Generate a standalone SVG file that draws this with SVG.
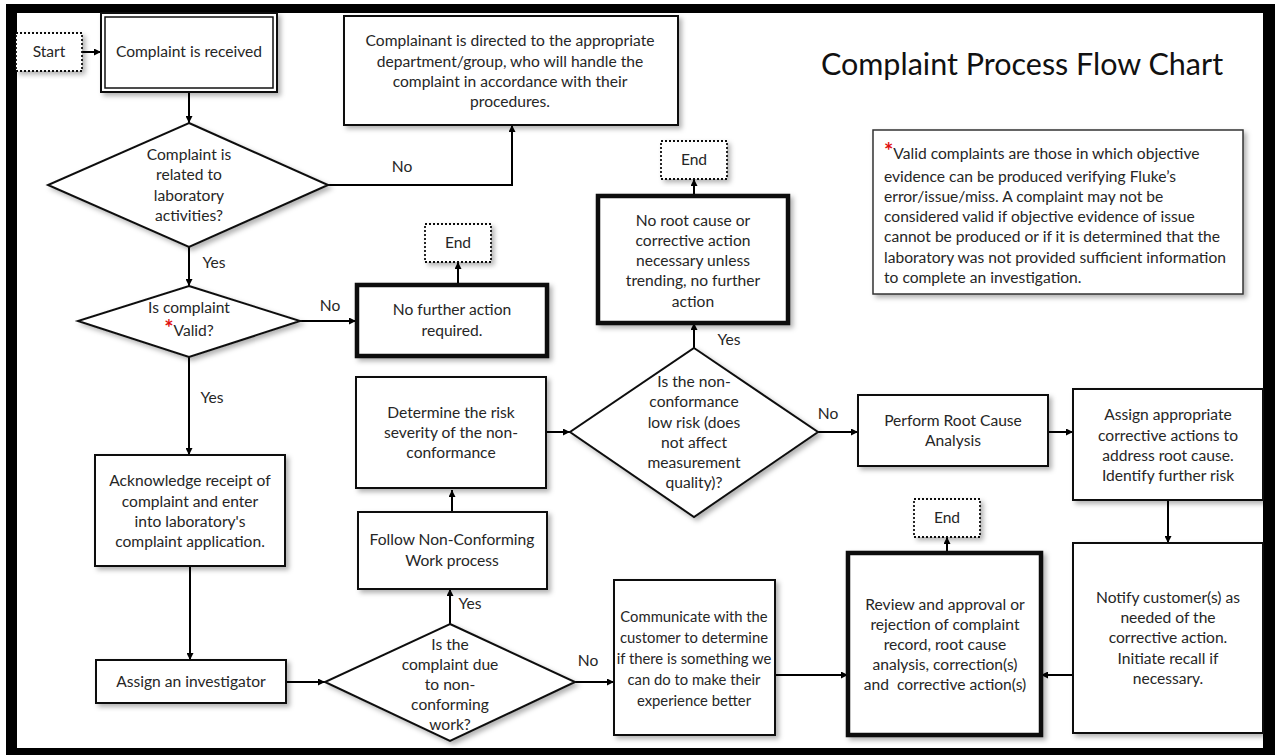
<svg xmlns="http://www.w3.org/2000/svg" width="1275" height="755" viewBox="0 0 1275 755">
<defs>
<filter id="sh" x="-10%" y="-10%" width="130%" height="130%"><feDropShadow dx="3" dy="3" stdDeviation="2.5" flood-color="#000" flood-opacity="0.3"/></filter>
<marker id="ah" viewBox="0 0 10 10" refX="10" refY="5" markerWidth="7" markerHeight="7" markerUnits="userSpaceOnUse" orient="auto"><path d="M0,0 L10,5 L0,10 z" fill="#000"/></marker>
</defs>
<style>
text{font-family:"Lato","Liberation Sans",sans-serif;font-size:15.6px;fill:#262626;text-anchor:middle}
.box{fill:#fff;stroke:#111;stroke-width:2}
.thick{fill:#fff;stroke:#111;stroke-width:4.5}
.dot{fill:#fff;stroke:#111;stroke-width:1.8;stroke-dasharray:2 2}
.con{fill:none;stroke:#000;stroke-width:2;marker-end:url(#ah)}
.note{text-anchor:start}
.red{fill:#e01010;font-size:22px;font-weight:bold}
.sm{font-size:14.8px}
</style>
<rect width="1275" height="755" fill="#fff"/>
<path d="M6,4 H1275 V755 H6 Z M17,13 V748 H1263 V13 Z" fill="#000" fill-rule="evenodd"/>

<g id="connectors">
<path class="con" d="M82,52 H101"/>
<path class="con" d="M189,92 V123"/>
<path class="con" d="M328,185 H512 V125"/>
<path class="con" d="M189,247 V286"/>
<path class="con" d="M300,321 H356"/>
<path class="con" d="M458,285 V262"/>
<path class="con" d="M189,357 V455"/>
<path class="con" d="M190,566 V660"/>
<path class="con" d="M286,682 H325"/>
<path class="con" d="M450,624 V589"/>
<path class="con" d="M452,512 V490"/>
<path class="con" d="M546,432 H570"/>
<path class="con" d="M694,348 V323"/>
<path class="con" d="M694,196 V179"/>
<path class="con" d="M818,432 H858"/>
<path class="con" d="M1048,432 H1073"/>
<path class="con" d="M1168,500 V543"/>
<path class="con" d="M1073,675 H1041"/>
<path class="con" d="M575,682 H614"/>
<path class="con" d="M775,675 H848"/>
<path class="con" d="M947,553 V537"/>
<text x="402" y="172">No</text>
<text x="214" y="268">Yes</text>
<text x="330" y="311">No</text>
<text x="212" y="403">Yes</text>
<text x="729" y="345">Yes</text>
<text x="828" y="419">No</text>
<text x="470" y="609">Yes</text>
<text x="588" y="666">No</text>
</g>

<text x="1022" y="75" style="font-size:30.5px;fill:#111">Complaint Process Flow Chart</text>

<g id="start"><rect class="dot" x="16" y="33" width="66" height="38" filter="url(#sh)"/><text x="49" y="57">Start</text></g>

<g id="received"><rect class="box" x="101" y="13" width="176" height="79" filter="url(#sh)"/><rect x="105" y="17" width="168" height="71" fill="none" stroke="#111" stroke-width="1.5"/><text x="189" y="57">Complaint is received</text></g>

<g id="d-related"><polygon class="box" points="189,123 328,185 189,247 48,185" filter="url(#sh)"/>
<text x="189" y="160">Complaint is</text><text x="189" y="180">related to</text><text x="189" y="201">laboratory</text><text x="189" y="221">activities?</text></g>

<g id="directed"><rect class="box" x="344" y="16" width="334" height="109" filter="url(#sh)"/>
<text x="510" y="46">Complainant is directed to the appropriate</text><text x="510" y="67">department/group, who will handle the</text><text x="510" y="87">complaint in accordance with their</text><text x="510" y="107">procedures.</text></g>

<g id="d-valid"><polygon class="box" points="189,286 300,321 189,357 78,321" filter="url(#sh)"/>
<text x="189" y="313">Is complaint</text><text x="189" y="336"><tspan class="red">*</tspan>Valid?</text></g>

<g id="nofurther"><rect class="thick" x="357" y="285" width="190" height="71" filter="url(#sh)"/><text x="452" y="315">No further action</text><text x="452" y="336">required.</text></g>
<g id="end1"><rect class="dot" x="425" y="224" width="66" height="38" filter="url(#sh)"/><text x="458" y="248">End</text></g>

<g id="noroot"><rect class="thick" x="598" y="196" width="190" height="127" filter="url(#sh)"/>
<text x="693" y="226">No root cause or</text><text x="693" y="246">corrective action</text><text x="693" y="266">necessary unless</text><text x="693" y="286">trending, no further</text><text x="693" y="307">action</text></g>
<g id="end2"><rect class="dot" x="661" y="141" width="66" height="38" filter="url(#sh)"/><text x="694" y="165">End</text></g>

<g id="note"><rect x="873" y="130" width="370" height="164" fill="#fff" stroke="#333" stroke-width="1.5" filter="url(#sh)"/>
<text class="note" x="884" y="159"><tspan class="red">*</tspan>Valid complaints are those in which objective</text>
<text class="note" x="884" y="182">evidence can be produced verifying Fluke’s</text>
<text class="note" x="884" y="202">error/issue/miss. A complaint may not be</text>
<text class="note" x="884" y="222">considered valid if objective evidence of issue</text>
<text class="note" x="884" y="242">cannot be produced or if it is determined that the</text>
<text class="note" x="884" y="263">laboratory was not provided sufficient information</text>
<text class="note" x="884" y="283">to complete an investigation.</text></g>

<g id="determine"><rect class="box" x="356" y="377" width="190" height="111" filter="url(#sh)"/>
<text x="451" y="418">Determine the risk</text><text x="451" y="438">severity of the non-</text><text x="451" y="458">conformance</text></g>

<g id="d-lowrisk"><polygon class="box" points="694,348 818,432 694,517 570,432" filter="url(#sh)"/>
<text x="694" y="387">Is the non-</text><text x="694" y="407">conformance</text><text x="694" y="428">low risk (does</text><text x="694" y="448">not affect</text><text x="694" y="468">measurement</text><text x="694" y="488">quality)?</text></g>

<g id="rootcause"><rect class="box" x="858" y="395" width="190" height="71" filter="url(#sh)"/><text x="953" y="426">Perform Root Cause</text><text x="953" y="446">Analysis</text></g>

<g id="assignca"><rect class="box" x="1073" y="389" width="190" height="111" filter="url(#sh)"/>
<text x="1168" y="420">Assign appropriate</text><text x="1168" y="441">corrective actions to</text><text x="1168" y="461">address root cause.</text><text x="1168" y="481">Identify further risk</text></g>

<g id="acknowledge"><rect class="box" x="95" y="455" width="190" height="111" filter="url(#sh)"/>
<text x="190" y="486">Acknowledge receipt of</text><text x="190" y="507">complaint and enter</text><text x="190" y="527">into laboratory's</text><text x="190" y="547">complaint application.</text></g>

<g id="follow"><rect class="box" x="358" y="512" width="189" height="77" filter="url(#sh)"/><text x="452" y="545">Follow Non-Conforming</text><text x="452" y="566">Work process</text></g>

<g id="investigator"><rect class="box" x="96" y="660" width="190" height="43" filter="url(#sh)"/><text x="191" y="687">Assign an investigator</text></g>

<g id="d-nonconf"><polygon class="box" points="450,624 575,682 450,741 325,682" filter="url(#sh)"/>
<text x="450" y="650">Is the</text><text x="450" y="670">complaint due</text><text x="450" y="690">to non-</text><text x="450" y="710">conforming</text><text x="450" y="730">work?</text></g>

<g id="communicate"><rect class="box" x="614" y="580" width="161" height="155" filter="url(#sh)"/>
<text class="sm" x="694" y="622">Communicate with the</text><text class="sm" x="694" y="643">customer to determine</text><text class="sm" x="694" y="664">if there is something we</text><text class="sm" x="694" y="685">can do to make their</text><text class="sm" x="694" y="706">experience better</text></g>

<g id="review"><rect class="thick" x="848" y="553" width="193" height="182" filter="url(#sh)"/>
<text x="945" y="610">Review and approval or</text><text x="945" y="630">rejection of complaint</text><text x="945" y="650">record, root cause</text><text x="945" y="670">analysis, correction(s)</text><text x="945" y="690" style="white-space:pre">and  corrective action(s)</text></g>
<g id="end3"><rect class="dot" x="914" y="499" width="66" height="38" filter="url(#sh)"/><text x="947" y="523">End</text></g>

<g id="notify"><rect class="box" x="1073" y="543" width="190" height="190" filter="url(#sh)"/>
<text x="1168" y="603">Notify customer(s) as</text><text x="1168" y="623">needed of the</text><text x="1168" y="643">corrective action.</text><text x="1168" y="664">Initiate recall if</text><text x="1168" y="684">necessary.</text></g>
</svg>
